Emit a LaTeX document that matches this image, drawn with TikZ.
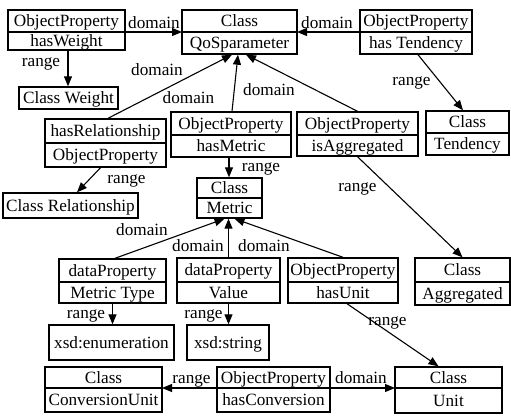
\documentclass[tikz,border=0pt]{standalone}
\usepackage{fontspec}
\setmainfont{Liberation Serif}
\usetikzlibrary{arrows.meta}
\tikzset{
  every node/.style={font=\fontsize{17.2}{19}\selectfont},
  box/.style={draw, line width=1.4pt, inner sep=0pt, rectangle},
  boxline/.style={line width=1.3pt},
  lbl/.style={inner sep=0pt, text height=11pt, text depth=0pt, anchor=center},
  arr/.style={-{Triangle[length=10pt,width=8pt]}, line width=1.1pt},
}
% name, x1, y1, x2, y2, ydiv, top, bottom
\newcommand\twobox[8]{%
  \node[box, minimum width={#4-#2}, minimum height={#5-#3}] (#1) at ({(#2+#4)/2},{(#3+#5)/2}) {};
  \coordinate (#1-dl) at (#2,#6);
  \coordinate (#1-dr) at (#4,#6);
  \draw[boxline] (#1-dl) -- (#1-dr);
  \node[lbl] (#1-t) at ({(#2+#4)/2},{(#3+#6)/2}) {#7};
  \node[lbl] (#1-b) at ({(#2+#4)/2},{(#6+#5)/2}) {#8};
}
% name, x1, y1, x2, y2, text
\newcommand\onebox[6]{%
  \node[box, minimum width={#4-#2}, minimum height={#5-#3}] (#1) at ({(#2+#4)/2},{(#3+#5)/2}) {};
  \node[lbl] (#1-t) at ({(#2+#4)/2},{(#3+#5)/2}) {#6};
}
\begin{document}
\begin{tikzpicture}[x=1pt,y=-1pt]
\useasboundingbox (0,0) rectangle (511,416);
% boxes
\twobox{A}{8}{10}{125}{50}{32}{ObjectProperty}{hasWeight}
\twobox{B}{182}{10}{297}{54}{32}{Class}{QoSparameter}
\twobox{C}{360}{10}{472}{54}{32}{ObjectProperty}{has Tendency}
\onebox{D}{19}{87}{118}{109}{Class Weight}
\twobox{E}{45}{119}{166}{167}{143}{hasRelationship}{ObjectProperty}
\twobox{F}{171}{112}{291}{157}{135}{ObjectProperty}{hasMetric}
\twobox{G}{297}{112}{418}{156}{135}{ObjectProperty}{isAggregated}
\twobox{H}{426}{111}{509}{155}{133}{Class}{Tendency}
\onebox{I}{3}{193}{138}{218}{Class Relationship}
\twobox{J}{197}{178}{262}{218}{198}{Class}{Metric}
\twobox{K}{59}{259}{166}{303}{282}{dataProperty}{Metric Type}
\twobox{L}{177}{258}{280}{303}{282}{dataProperty}{Value}
\twobox{M}{288}{258}{398}{303}{282}{ObjectProperty}{hasUnit}
\twobox{N}{415}{258}{510}{305}{282}{Class}{Aggregated}
\onebox{O}{49}{325}{174}{360}{xsd:enumeration}
\onebox{P}{187}{325}{269}{360}{xsd:string}
\twobox{Q}{45}{367}{162}{412}{388}{Class}{ConversionUnit}
\twobox{R}{217}{367}{330}{412}{388}{ObjectProperty}{hasConversion}
\twobox{S}{395}{367}{502}{413}{388}{Class}{Unit}
% connectors
\draw[arr] (A-dr) -- (B-dl);
\draw[arr] (C-dl) -- (B-dr);
\draw[arr] ([xshift=1.5pt]A.south) -- ([xshift=1.5pt]A.south |- D.north);
\draw[arr] ([xshift=2pt]C.south) -- ([xshift=-4.5pt]H.north);
\draw[arr] ([xshift=2.5pt]E.north) -- ([xshift=-7.5pt]B.south);
\draw[arr] ([xshift=1pt]F.north) -- ([xshift=-1.5pt]B.south);
\draw[arr] (G.north) -- ([xshift=6.5pt]B.south);
\draw[arr] ([xshift=-5pt]E.south) -- ([xshift=6.5pt]I.north);
\draw[arr] ([xshift=-2pt]F.south) -- ([xshift=-2pt]F.south |- J.north);
\draw[arr] (G.south) -- (N.north);
\draw[arr] ([xshift=2.5pt]K.north) -- ([xshift=-5pt]J.south);
\draw[arr] (L.north) -- (L.north |- J.south);
\draw[arr] (M.north) -- ([xshift=5pt]J.south);
\draw[arr] (K.south) -- (K.south |- O.north);
\draw[arr] (L.south) -- (L.south |- P.north);
\draw[arr] ([xshift=4pt]M.south) -- ([xshift=-10pt]S.north);
\draw[arr] (R-dl) -- (Q-dr);
\draw[arr] (R-dr) -- (S-dl);
% labels
\node[lbl] (l1) at (154,22.5) {domain};
\node[lbl] (l2) at (327,22.5) {domain};
\node[lbl] (l3) at (41,61) {range};
\node[lbl] (l4) at (411.5,79.5) {range};
\node[lbl] (l5) at (157,69.5) {domain};
\node[lbl] (l6) at (188.5,97.5) {domain};
\node[lbl] (l7) at (269,89.5) {domain};
\node[lbl] (l8) at (126.5,177.5) {range};
\node[lbl] (l9) at (261,166) {range};
\node[lbl] (l10) at (357.5,186) {range};
\node[lbl] (l11) at (142,230) {domain};
\node[lbl] (l12) at (198,246) {domain};
\node[lbl] (l13) at (264,246) {domain};
\node[lbl] (l14) at (86,312.5) {range};
\node[lbl] (l15) at (203.5,312.5) {range};
\node[lbl] (l16) at (387.5,319.5) {range};
\node[lbl] (l17) at (191.5,377.5) {range};
\node[lbl] (l18) at (361,377.5) {domain};
\end{tikzpicture}
\end{document}
